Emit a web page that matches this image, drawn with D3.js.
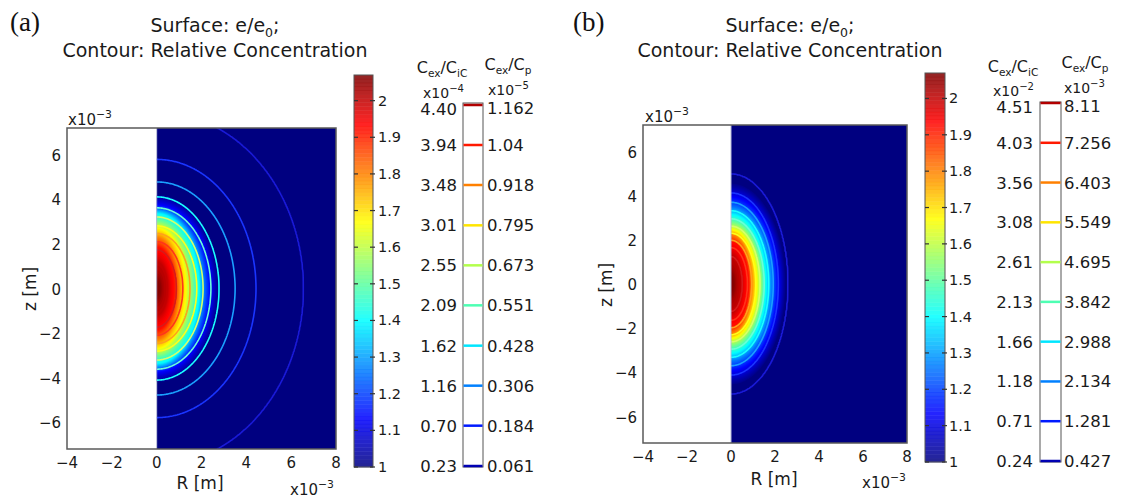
<!DOCTYPE html>
<html>
<head>
<meta charset="utf-8">
<script src="https://cdn.jsdelivr.net/npm/d3@7"></script>
<style>
  body { margin: 0; background: #fff; }
  svg { display: block; font-family: "DejaVu Sans", sans-serif; }
</style>
</head>
<body>
<svg id="fig" width="1121" height="500"></svg>
<script>
// Lengths on both axes are in units of 1e-3 m.
const rTicks = [-4, -2, 0, 2, 4, 6, 8];
const zTicks = [-6, -4, -2, 0, 2, 4, 6];
const eTicks = [1, 1.1, 1.2, 1.3, 1.4, 1.5, 1.6, 1.7, 1.8, 1.9, 2];
const eMin = 1.0, eMax = 2.07;

// ---- panel (a) ----
// contour levels of C_ex/C_p (x1e-5) and matching C_ex/C_iC labels (x1e-4)
const cpLevelsA  = [0.061, 0.184, 0.306, 0.428, 0.551, 0.673, 0.795, 0.918, 1.04, 1.162];
const cpLabelsA  = ["0.061", "0.184", "0.306", "0.428", "0.551", "0.673", "0.795", "0.918", "1.04", "1.162"];
const cicLabelsA = ["0.23", "0.70", "1.16", "1.62", "2.09", "2.55", "3.01", "3.48", "3.94", "4.40"];
const cMaxA = 1.223;
// half-axes of each concentration contour: along R (z = 0) and along z (R = 0)
const contourRA = [6.54, 4.43, 3.50, 2.78, 2.42, 2.07, 1.79, 1.49, 1.17, 0.89];
const contourZA = [7.90, 5.79, 4.78, 4.11, 3.62, 3.21, 2.81, 2.47, 2.10, 1.74];
// iso-lines of the e/e0 surface and their half-axes
const surfLevelsA = [1.00, 1.13, 1.27, 1.40, 1.53, 1.67, 1.80, 1.92, 2.00, 2.05];
const surfRA      = [2.80, 2.40, 2.10, 1.90, 1.60, 1.30, 1.00, 0.80, 0.50, 0.20];
const surfZA      = [4.25, 3.75, 3.55, 3.36, 3.00, 2.70, 2.30, 1.87, 1.20, 0.50];

// ---- panel (b) ----
const cpLevelsB  = [0.427, 1.281, 2.134, 2.988, 3.842, 4.695, 5.549, 6.403, 7.256, 8.11];
const cpLabelsB  = ["0.427", "1.281", "2.134", "2.988", "3.842", "4.695", "5.549", "6.403", "7.256", "8.11"];
const cicLabelsB = ["0.24", "0.71", "1.18", "1.66", "2.13", "2.61", "3.08", "3.56", "4.03", "4.51"];
const cMaxB = 8.537;
const contourRB = [2.58, 2.15, 1.92, 1.72, 1.51, 1.32, 1.13, 0.94, 0.75, 0.52];
const contourZB = [4.97, 4.12, 3.70, 3.32, 2.95, 2.62, 2.30, 1.98, 1.65, 1.25];
const surfLevelsB = [1.00, 1.13, 1.27, 1.40, 1.53, 1.67, 1.80, 1.92, 2.00, 2.05];
const surfRB      = [2.50, 2.15, 1.85, 1.60, 1.40, 1.17, 0.94, 0.80, 0.45, 0.18];
const surfZB      = [4.60, 3.95, 3.45, 3.14, 2.77, 2.45, 2.23, 1.92, 1.30, 0.55];

// jet colour map
function jet(t) {
  t = Math.max(0, Math.min(1, t));
  const f = x => Math.max(0, Math.min(1, x));
  return d3.rgb(255 * f(1.5 - Math.abs(4 * t - 3)),
                255 * f(1.5 - Math.abs(4 * t - 2)),
                255 * f(1.5 - Math.abs(4 * t - 1))).formatHex();
}
const eColor = d3.scaleSequential(jet).domain([eMin, eMax]);
const levelColor = d3.scaleSequential(jet).domain([-0.5, 9.5]);
// contour strokes inside the field are drawn a little lighter than the legend swatches
const lineColor = i => d3.interpolateRgb(d3.rgb(levelColor(i)).brighter(0.45).formatHex(), "#ffffff")(0.1);

// Value at (r, z) from nested ellipses (outer -> inner), linear between neighbours.
function nestedField(r, z, vals, rr, zz, vCenter, tail) {
  const n = vals.length;
  const s = new Array(n);
  for (let i = 0; i < n; i++) s[i] = Math.sqrt((r / rr[i]) ** 2 + (z / zz[i]) ** 2);
  if (s[0] > 1) return tail(vals[0], s[0]);
  let i = 0;
  while (i + 1 < n && s[i + 1] <= 1) i++;
  if (i === n - 1) return vCenter - (vCenter - vals[n - 1]) * s[n - 1] * s[n - 1];
  const f = (1 - s[i]) / (s[i + 1] - s[i]);
  return vals[i] + f * (vals[i + 1] - vals[i]);
}

const panels = [
  { id: "a", tag: "(a)", tagX: 10, titleX: 215,
    plot: { x0: 67, x1: 336, y0: 128, y1: 449 }, tickY: 468, yLabX: 61,
    zLab: [36, 289], rLab: [200, 489], expTop: [68, 125], expBot: [334, 495],
    cbar: { x: 354, w: 19, y0: 75, y1: 467, labX: 378 },
    leg: { x: 463, w: 20, y0: 103, y1: 467, lTop: 105, lBot: 466, leftX: 457, rightX: 487,
           hL: [442, 73], hR: [508, 70], mL: [464, 98], mR: [488, 95], expL: "−4", expR: "−5" },
    levels: cpLevelsA, cpLabels: cpLabelsA, cicLabels: cicLabelsA, cMax: cMaxA,
    cR: contourRA, cZ: contourZA, sV: surfLevelsA, sR: surfRA, sZ: surfZA },
  { id: "b", tag: "(b)", tagX: 573, titleX: 790,
    plot: { x0: 643, x1: 907, y0: 125, y1: 443 }, tickY: 462, yLabX: 637,
    zLab: [612, 285], rLab: [774, 485], expTop: [645, 122], expBot: [906, 488],
    cbar: { x: 925, w: 20, y0: 73, y1: 462, labX: 949 },
    leg: { x: 1040, w: 21, y0: 102, y1: 462, lTop: 103, lBot: 461, leftX: 1033, rightX: 1064,
           hL: [1013, 72], hR: [1085, 68], mL: [1034, 96], mR: [1064, 93], expL: "−2", expR: "−3" },
    levels: cpLevelsB, cpLabels: cpLabelsB, cicLabels: cicLabelsB, cMax: cMaxB,
    cR: contourRB, cZ: contourZB, sV: surfLevelsB, sR: surfRB, sZ: surfZB }
];

const svg = d3.select("#fig");
const defs = svg.append("defs");

// text made of plain / subscript / superscript pieces
function richText(g, x, y, parts, size, anchor) {
  const t = g.append("text").attr("x", x).attr("y", y)
    .attr("font-size", size).attr("text-anchor", anchor || "start").attr("fill", "#1a1a1a");
  let shift = 0;
  parts.forEach(p => {
    const ts = t.append("tspan").text(p.t);
    let target = 0, fs = size;
    if (p.sub) { target = size * 0.26; fs = size * 0.66; }
    if (p.sup) { target = -size * 0.45; fs = size * 0.72; }
    ts.attr("font-size", fs).attr("dy", target - shift);
    shift = target;
  });
  return t;
}

panels.forEach(p => {
  const g = svg.append("g");
  const xs = d3.scaleLinear().domain([-4, 8]).range([p.plot.x0, p.plot.x1]);
  const ys = d3.scaleLinear().domain([-7.2, 7.2]).range([p.plot.y1, p.plot.y0]);

  // panel tag and title
  g.append("text").attr("x", p.tagX).attr("y", 31).attr("font-family", "'Liberation Serif', serif")
    .attr("font-size", 27).attr("fill", "#111").text(p.tag);
  richText(g, p.titleX, 32, [{ t: "Surface: e/e" }, { t: "0", sub: true }, { t: ";" }], 19, "middle");
  g.append("text").attr("x", p.titleX).attr("y", 57).attr("font-size", 19)
    .attr("text-anchor", "middle").attr("fill", "#1a1a1a").text("Contour: Relative Concentration");

  // plot area
  g.append("rect").attr("x", xs(-4)).attr("y", ys(7.2))
    .attr("width", xs(8) - xs(-4)).attr("height", ys(-7.2) - ys(7.2)).attr("fill", "#fff");

  const clipId = "clip-" + p.id;
  defs.append("clipPath").attr("id", clipId).append("rect")
    .attr("x", xs(0)).attr("y", ys(7.2))
    .attr("width", xs(8) - xs(0)).attr("height", ys(-7.2) - ys(7.2));
  const fg = g.append("g").attr("clip-path", `url(#${clipId})`);
  fg.append("rect").attr("x", xs(0)).attr("y", ys(7.2))
    .attr("width", xs(8) - xs(0)).attr("height", ys(-7.2) - ys(7.2)).attr("fill", eColor(eMin));

  // sample e/e0 and concentration on a grid that extends past the visible domain
  const dr = 0.04, rA = -0.6, rB = 8.6, zT = 8.6;
  const nx = Math.round((rB - rA) / dr), ny = Math.round(2 * zT / dr);
  const eGrid = new Float64Array(nx * ny), cGrid = new Float64Array(nx * ny);
  for (let j = 0; j < ny; j++) {
    const z = zT - (j + 0.5) * dr;
    for (let i = 0; i < nx; i++) {
      const r = rA + (i + 0.5) * dr;
      eGrid[j * nx + i] = nestedField(r, z, p.sV, p.sR, p.sZ, eMax, () => eMin);
      cGrid[j * nx + i] = nestedField(r, z, p.levels, p.cR, p.cZ, p.cMax, (v0, s0) => v0 / s0);
    }
  }
  const proj = d3.geoTransform({
    point(x, y) { this.stream.point(xs(rA + x * dr), ys(zT - y * dr)); }
  });
  const path = d3.geoPath(proj);

  const eStep = (eMax - eMin) / 100;
  const eThr = d3.range(1, 100).map(k => eMin + k * eStep);
  fg.append("g").selectAll("path")
    .data(d3.contours().size([nx, ny]).thresholds(eThr)(eGrid))
    .join("path").attr("d", path).attr("fill", d => eColor(d.value + eStep / 2));

  fg.append("g").selectAll("path")
    .data(d3.contours().size([nx, ny]).thresholds(p.levels)(cGrid))
    .join("path").attr("d", path).attr("fill", "none")
    .attr("stroke", (d, i) => lineColor(i)).attr("stroke-width", 1.6);

  g.append("line").attr("x1", xs(0)).attr("x2", xs(0)).attr("y1", ys(7.2)).attr("y2", ys(-7.2))
    .attr("stroke", "#b8bcd8").attr("stroke-width", 1);

  g.append("rect").attr("x", xs(-4)).attr("y", ys(7.2))
    .attr("width", xs(8) - xs(-4)).attr("height", ys(-7.2) - ys(7.2))
    .attr("fill", "none").attr("stroke", "#5a5a5a").attr("stroke-width", 1.5);

  // tick labels
  const fmt = d3.format("d");
  g.append("g").selectAll("text").data(rTicks).join("text")
    .attr("x", d => xs(d)).attr("y", p.tickY).attr("text-anchor", "middle")
    .attr("font-size", 15).attr("fill", "#1a1a1a").text(fmt);
  g.append("g").selectAll("text").data(zTicks).join("text")
    .attr("x", p.yLabX).attr("y", d => ys(d) + 6).attr("text-anchor", "end")
    .attr("font-size", 15).attr("fill", "#1a1a1a").text(fmt);

  // axis titles and scale factors
  g.append("text").attr("x", p.rLab[0]).attr("y", p.rLab[1]).attr("text-anchor", "middle")
    .attr("font-size", 17).attr("fill", "#1a1a1a").text("R [m]");
  g.append("text").attr("transform", `translate(${p.zLab[0]},${p.zLab[1]}) rotate(-90)`)
    .attr("text-anchor", "middle").attr("font-size", 17).attr("fill", "#1a1a1a").text("z [m]");
  richText(g, p.expTop[0], p.expTop[1], [{ t: "x10" }, { t: "−3", sup: true }], 15, "start");
  richText(g, p.expBot[0], p.expBot[1], [{ t: "x10" }, { t: "−3", sup: true }], 15, "end");

  // colour bar for e/e0
  const cb = p.cbar;
  const cs = d3.scaleLinear().domain([eMin, eMax]).range([cb.y1, cb.y0]);
  const bands = d3.range(0, 100).map(k => eMin + k * eStep);
  g.append("g").selectAll("rect").data(bands).join("rect")
    .attr("x", cb.x).attr("width", cb.w)
    .attr("y", d => cs(d + eStep)).attr("height", d => cs(d) - cs(d + eStep) + 0.3)
    .attr("fill", d => eColor(d + eStep / 2)).attr("fill-opacity", 0.86);
  g.append("rect").attr("x", cb.x).attr("y", cb.y0).attr("width", cb.w).attr("height", cb.y1 - cb.y0)
    .attr("fill", "none").attr("stroke", "#555").attr("stroke-width", 1);
  const ct = g.append("g").selectAll("g").data(eTicks).join("g");
  ct.append("line").attr("x1", cb.x).attr("x2", cb.x + 4).attr("y1", d => cs(d)).attr("y2", d => cs(d))
    .attr("stroke", "#333").attr("stroke-width", 1.2);
  ct.append("line").attr("x1", cb.x + cb.w - 3).attr("x2", cb.x + cb.w + 2).attr("y1", d => cs(d)).attr("y2", d => cs(d))
    .attr("stroke", "#333").attr("stroke-width", 1.2);
  ct.append("text").attr("x", cb.labX).attr("y", d => cs(d) + 5).attr("font-size", 14.5)
    .attr("fill", "#1a1a1a").text(d => d3.format("~g")(d));

  // contour level legend
  const lg = p.leg;
  const ls = d3.scaleLinear().domain([p.levels[0], p.levels[p.levels.length - 1]]).range([lg.lBot, lg.lTop]);
  g.append("rect").attr("x", lg.x).attr("y", lg.y0).attr("width", lg.w).attr("height", lg.y1 - lg.y0)
    .attr("fill", "#fff").attr("stroke", "#555").attr("stroke-width", 1);
  g.append("g").selectAll("line").data(p.levels).join("line")
    .attr("x1", lg.x + 0.5).attr("x2", lg.x + lg.w - 0.5)
    .attr("y1", d => ls(d)).attr("y2", d => ls(d))
    .attr("stroke", (d, i) => levelColor(i)).attr("stroke-width", 2.5);
  const last = p.levels.length - 1;
  g.append("g").selectAll("text").data(p.levels).join("text")
    .attr("x", lg.leftX).attr("y", (d, i) => ls(d) + 6 + (i === last ? 4 : 0))
    .attr("text-anchor", "end").attr("font-size", 16.5).attr("fill", "#1a1a1a")
    .text((d, i) => p.cicLabels[i]);
  g.append("g").selectAll("text").data(p.levels).join("text")
    .attr("x", lg.rightX).attr("y", (d, i) => ls(d) + 6 + (i === last ? 3 : 0))
    .attr("font-size", 16.5).attr("fill", "#1a1a1a")
    .text((d, i) => p.cpLabels[i]);
  richText(g, lg.hL[0], lg.hL[1], [{ t: "C" }, { t: "ex", sub: true }, { t: "/C" }, { t: "iC", sub: true }], 16, "middle");
  richText(g, lg.hR[0], lg.hR[1], [{ t: "C" }, { t: "ex", sub: true }, { t: "/C" }, { t: "p", sub: true }], 16, "middle");
  richText(g, lg.mL[0], lg.mL[1], [{ t: "x10" }, { t: lg.expL, sup: true }], 14, "end");
  richText(g, lg.mR[0], lg.mR[1], [{ t: "x10" }, { t: lg.expR, sup: true }], 14, "start");
});
</script>
</body>
</html>
